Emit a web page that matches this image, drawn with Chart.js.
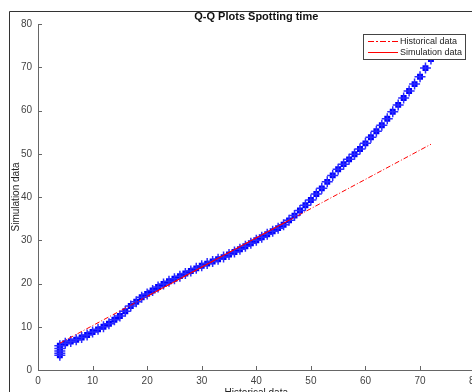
<!DOCTYPE html>
<html>
<head>
<meta charset="utf-8">
<script src="https://cdn.jsdelivr.net/npm/chart.js@4/dist/chart.umd.min.js"></script>
<style>
  html, body { margin: 0; padding: 0; background: #fff; overflow: hidden; }
  #qq { display: block; }
</style>
</head>
<body>
<canvas id="qq" width="490" height="392"></canvas>
<script>
// quantiles: historical (x) vs simulated (y)
const histQ = [4, 4, 4, 4, 4, 5, 6, 7, 8, 9, 10, 11, 12, 13, 14, 15, 16, 17, 18, 19, 20,
  21, 22, 23, 24, 25, 26, 27, 28, 29, 30, 31, 32, 33, 34, 35, 36, 37, 38, 39, 40,
  41, 42, 43, 44, 45, 46, 47, 48, 49, 50, 51, 52, 53, 54, 55, 56, 57, 58, 59, 60,
  61, 62, 63, 64, 65, 66, 67, 68, 69, 70, 71, 72];
const simQ = [3.4, 3.9, 4.4, 5.0, 5.6, 6.2, 6.6, 7.0, 7.5, 8.1, 8.8, 9.4, 10.0, 10.7, 11.6, 12.5, 13.6, 14.8, 15.8, 16.8, 17.6,
  18.4, 19.2, 19.9, 20.5, 21.1, 21.7, 22.3, 22.9, 23.5, 24.1, 24.6, 25.1, 25.6, 26.1, 26.7, 27.3, 27.9, 28.6, 29.3, 30.0,
  30.7, 31.4, 32.1, 32.8, 33.6, 34.6, 35.7, 36.9, 38.1, 39.3, 40.7, 42.0, 43.5, 45.0, 46.4, 47.6, 48.7, 49.9, 51.1, 52.4,
  53.8, 55.2, 56.6, 58.1, 59.7, 61.3, 62.9, 64.5, 66.1, 67.8, 69.8, 71.9];

// reference lines: extended (dash-dot) and interquartile (solid)
const extLineX = [4, 72];
const extLineY = [6.2, 52.2];
const iqrLineX = [20, 46];
const iqrLineY = [17.03, 34.62];

const tickVals = [0, 10, 20, 30, 40, 50, 60, 70, 80];
const legendLabels = ['Historical data', 'Simulation data'];

const FONT = "'Liberation Sans', Arial, Helvetica, sans-serif";
const pts = (xs, ys) => xs.map((x, i) => ({ x: x, y: ys[i] }));

// frame, titles, inward ticks and legend
const decor = {
  id: 'decor',
  afterDraw(chart) {
    const c = chart.ctx;
    const xs = chart.scales.x, ys = chart.scales.y;
    const a = chart.chartArea;
    c.save();

    // figure frame edges
    c.strokeStyle = '#333';
    c.lineWidth = 1;
    c.beginPath();
    c.moveTo(9.5, 392); c.lineTo(9.5, 11.5); c.lineTo(490, 11.5);
    c.stroke();

    // ticks pointing into the plot
    c.strokeStyle = '#666';
    c.beginPath();
    tickVals.forEach(v => {
      const px = Math.round(xs.getPixelForValue(v)) + 0.5;
      c.moveTo(px, a.bottom); c.lineTo(px, a.bottom - 4);
      const py = Math.round(ys.getPixelForValue(v)) + 0.5;
      c.moveTo(a.left, py); c.lineTo(a.left + 4, py);
    });
    c.stroke();

    // title
    c.fillStyle = '#111';
    c.textAlign = 'center';
    c.textBaseline = 'alphabetic';
    c.font = 'bold 11px ' + FONT;
    c.fillText('Q-Q Plots Spotting time', (a.left + a.right) / 2, 20);

    // axis titles
    c.font = '10px ' + FONT;
    c.fillStyle = '#222';
    c.fillText('Historical data', (a.left + a.right) / 2, 396);
    c.save();
    c.translate(19, (a.top + a.bottom) / 2);
    c.rotate(-Math.PI / 2);
    c.fillText('Simulation data', 0, 0);
    c.restore();

    // legend
    const lx = 363, ly = 34, lw = 102, lh = 25;
    c.fillStyle = '#fff';
    c.fillRect(lx, ly, lw, lh);
    c.strokeStyle = '#444';
    c.strokeRect(lx + 0.5, ly + 0.5, lw, lh);
    c.strokeStyle = '#ff0000';
    c.lineWidth = 1;
    c.setLineDash([6, 2, 2, 2]);
    c.beginPath(); c.moveTo(368, 41.5); c.lineTo(398, 41.5); c.stroke();
    c.setLineDash([]);
    c.beginPath(); c.moveTo(368, 52.5); c.lineTo(398, 52.5); c.stroke();
    c.fillStyle = '#222';
    c.textAlign = 'left';
    c.textBaseline = 'middle';
    c.font = '9px ' + FONT;
    c.fillText(legendLabels[0], 400, 41.5);
    c.fillText(legendLabels[1], 400, 52.5);

    c.restore();
  }
};

new Chart(document.getElementById('qq'), {
  type: 'scatter',
  data: {
    datasets: [
      {
        data: pts(extLineX, extLineY),
        showLine: true,
        borderColor: '#ff0000',
        borderWidth: 1,
        borderDash: [5, 2, 1, 2],
        pointRadius: 0
      },
      {
        data: pts(iqrLineX, iqrLineY),
        showLine: true,
        borderColor: '#ff0000',
        borderWidth: 1,
        pointRadius: 0
      },
      {
        data: pts(histQ, simQ),
        pointStyle: 'cross',
        pointRadius: 5.5,
        borderColor: '#2a2aff',
        borderWidth: 1.5
      },
      {
        data: pts(histQ, simQ),
        pointStyle: 'rect',
        pointRadius: 4.2,
        backgroundColor: '#0000ff',
        borderColor: '#0000ff',
        borderWidth: 0
      }
    ]
  },
  options: {
    responsive: false,
    animation: false,
    layout: { padding: { left: 0, right: 15.4, top: 24, bottom: 0 } },
    plugins: { legend: { display: false }, title: { display: false }, tooltip: { enabled: false } },
    scales: {
      x: {
        type: 'linear', min: 0, max: 80,
        afterFit: s => { s.height = 22; },
        afterBuildTicks: s => { s.ticks = tickVals.map(v => ({ value: v })); },
        border: { color: '#666', width: 1 },
        grid: { drawOnChartArea: false, drawTicks: false },
        ticks: { padding: 5, color: '#444', font: { family: FONT, size: 10 } }
      },
      y: {
        type: 'linear', min: 0, max: 80,
        afterFit: s => { s.width = 38; },
        afterBuildTicks: s => { s.ticks = tickVals.map(v => ({ value: v })); },
        border: { color: '#666', width: 1 },
        grid: { drawOnChartArea: false, drawTicks: false },
        ticks: { padding: 6, color: '#444', font: { family: FONT, size: 10 } }
      }
    }
  },
  plugins: [decor]
});
</script>
</body>
</html>
